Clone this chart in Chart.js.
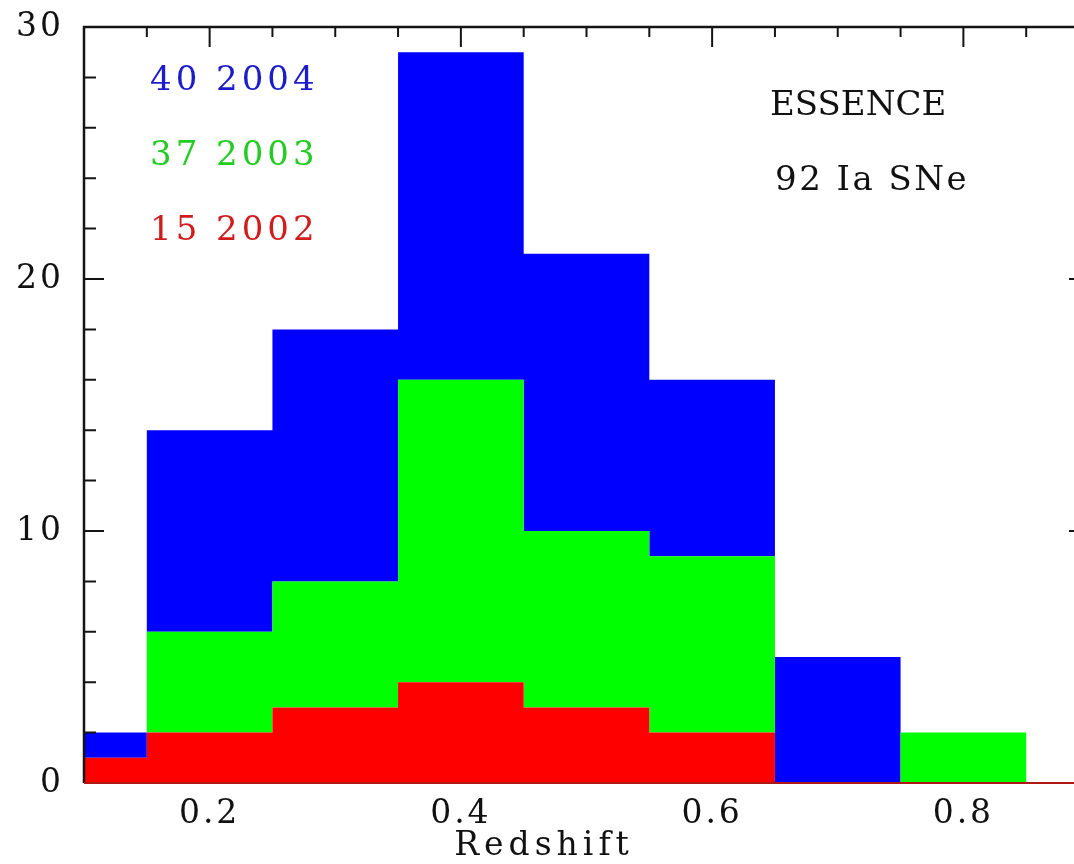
<!DOCTYPE html>
<html>
<head>
<meta charset="utf-8">
<script src="https://cdn.jsdelivr.net/npm/chart.js@4.4.0/dist/chart.umd.min.js"></script>
<style>
  html, body { margin: 0; padding: 0; background: #fff; overflow: hidden; }
  /* wider than the window: the right frame edge sits just off the picture */
  #wrap { width: 1100px; height: 864px; }
</style>
</head>
<body>
<div id="wrap"><canvas id="chart"></canvas></div>
<script>
// bin edges in redshift (last bin runs past the frame)
const binEdges = [0.10, 0.15, 0.25, 0.35, 0.45, 0.55, 0.65, 0.75, 0.85, 0.95];
// SNe per bin for each season, stacked 2002 -> 2003 -> 2004
const sn2002 = [1, 2, 3, 4, 3, 2, 0, 0, 0];
const sn2003 = [0, 4, 5, 12, 7, 7, 0, 2, 0];
const sn2004 = [1, 8, 10, 13, 11, 7, 5, 0, 0];
const seasonLabels = ["15 2002", "37 2003", "40 2004"];
const seasonColors = ["#ff0000", "#00ff00", "#0000ff"];
const labelColors = ["#d01c1c", "#22cc22", "#1c1cc8"];
const xTickLabels = [0.2, 0.4, 0.6, 0.8];
const yTickLabels = [0, 10, 20, 30];
const xTitle = "Redshift";
const noteLines = ["ESSENCE", "92 Ia SNe"];

const FONT = "'DejaVu Serif', 'Liberation Serif', serif";

// histogram as step points: value at edge i holds until edge i+1
function toSteps(counts) {
  return binEdges.map((x, i) => ({ x: x, y: counts[Math.min(i, counts.length - 1)] }));
}

const isIn = (list, v) => list.some((t) => Math.abs(t - v) < 1e-6);

// frame with inward ticks (top, left, right), like the original plot
const framePlugin = {
  id: "frame",
  beforeDraw: (chart) => {
    chart.ctx.letterSpacing = "3px";
  },
  afterDatasetsDraw: (chart) => {
    const ctx = chart.ctx;
    const { left, top, right, bottom } = chart.chartArea;
    const xs = chart.scales.x;
    const ys = chart.scales.y;
    ctx.save();
    ctx.strokeStyle = "#141414";
    ctx.lineWidth = 2.5;
    ctx.beginPath();
    ctx.moveTo(left, bottom);
    ctx.lineTo(left, top);
    ctx.lineTo(right, top);
    ctx.lineTo(right, bottom);
    ctx.stroke();

    ctx.lineWidth = 2;
    ctx.beginPath();
    xs.ticks.forEach((t) => {
      const px = xs.getPixelForValue(t.value);
      if (px <= left + 1 || px >= right - 1) return;
      const len = isIn(xTickLabels, t.value) ? 20 : 10;
      ctx.moveTo(px, top);
      ctx.lineTo(px, top + len);
    });
    ys.ticks.forEach((t) => {
      const py = ys.getPixelForValue(t.value);
      if (py <= top + 1 || py >= bottom - 1) return;
      const len = isIn(yTickLabels, t.value) ? 20 : 12;
      ctx.moveTo(left, py);
      ctx.lineTo(left + len, py);
      ctx.moveTo(right, py);
      ctx.lineTo(right - len, py);
    });
    ctx.stroke();

    // dark red baseline under the histogram
    ctx.strokeStyle = "#b01818";
    ctx.lineWidth = 2;
    ctx.beginPath();
    ctx.moveTo(left, ys.getPixelForValue(0));
    ctx.lineTo(right, ys.getPixelForValue(0));
    ctx.stroke();
    ctx.restore();
  },
  afterDraw: (chart) => {
    const ctx = chart.ctx;
    const { left, top } = chart.chartArea;
    ctx.save();
    ctx.textAlign = "left";
    ctx.textBaseline = "alphabetic";
    ctx.font = "34px " + FONT;
    ctx.letterSpacing = "4px";
    // season counts, newest on top
    for (let i = seasonLabels.length - 1, row = 0; i >= 0; i--, row++) {
      ctx.fillStyle = labelColors[i];
      ctx.fillText(seasonLabels[i], left + 66, top + 63 + row * 75);
    }
    ctx.fillStyle = "#111";
    ctx.letterSpacing = "0px";
    ctx.fillText(noteLines[0], left + 686, top + 88);
    ctx.letterSpacing = "2.5px";
    ctx.fillText(noteLines[1], left + 691, top + 163);

    // axis title sits left of the frame centre in the original
    ctx.font = "33px " + FONT;
    ctx.letterSpacing = "5px";
    ctx.textAlign = "center";
    ctx.fillText(xTitle, left + 460, 855);
    ctx.restore();
  },
};

const chart = new Chart("chart", {
  type: "line",
  data: {
    datasets: [
      {
        label: "2002",
        data: toSteps(sn2002),
        backgroundColor: seasonColors[0],
        borderWidth: 0,
        fill: "origin",
      },
      {
        label: "2003",
        data: toSteps(sn2003),
        backgroundColor: seasonColors[1],
        borderWidth: 0,
        fill: "-1",
      },
      {
        label: "2004",
        data: toSteps(sn2004),
        backgroundColor: seasonColors[2],
        borderWidth: 0,
        fill: "-1",
      },
    ],
  },
  options: {
    responsive: true,
    maintainAspectRatio: false,
    animation: false,
    elements: {
      line: { stepped: true, borderWidth: 0 },
      point: { radius: 0 },
    },
    layout: { padding: { top: 27, right: 11, left: 0, bottom: 0 } },
    scales: {
      x: {
        type: "linear",
        min: 0.1,
        max: 0.9,
        grid: { display: false, drawTicks: false },
        border: { display: false },
        ticks: {
          stepSize: 0.05,
          autoSkip: false,
          maxRotation: 0,
          padding: 12,
          color: "#111",
          font: { family: FONT, size: 33 },
          callback: (v) => (isIn(xTickLabels, v) ? Number(v).toFixed(1) : ""),
        },
        afterFit: (scale) => {
          scale.height = 81;
          scale.paddingLeft = 0;
          scale.paddingRight = 0;
        },
      },
      y: {
        stacked: true,
        min: 0,
        max: 30,
        grid: { display: false, drawTicks: false },
        border: { display: false },
        ticks: {
          stepSize: 2,
          autoSkip: false,
          padding: 20,
          color: "#111",
          font: { family: FONT, size: 33 },
          callback: (v) => (isIn(yTickLabels, v) ? String(v) : ""),
        },
        afterFit: (scale) => {
          scale.width = 84;
          scale.paddingTop = 0;
          scale.paddingBottom = 0;
        },
      },
    },
    plugins: {
      legend: { display: false },
      tooltip: { enabled: false },
    },
  },
  plugins: [framePlugin],
});
</script>
</body>
</html>
